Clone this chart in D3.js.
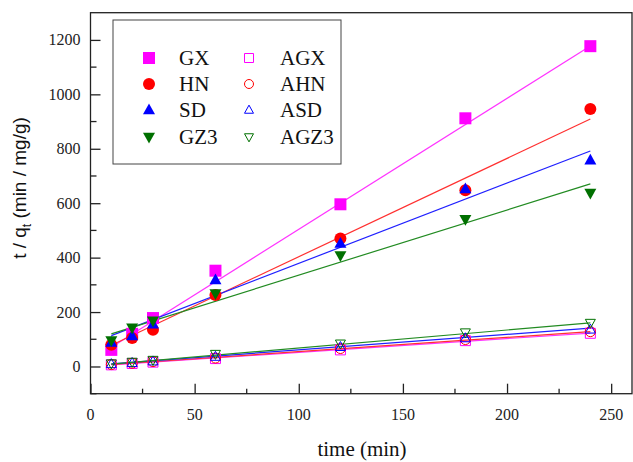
<!DOCTYPE html>
<html><head><meta charset="utf-8">
<script src="https://cdn.jsdelivr.net/npm/d3@7"></script>
<style>
  svg text { font-family: "Liberation Serif", "Times New Roman", Times, serif; }
  svg text.sans { font-family: "Liberation Sans", Arial, sans-serif; }
</style>
</head><body style="margin:0">
<script>
// ---- data ----
const times = [10, 20, 30, 60, 120, 180, 240];
const seriesNames = ["GX", "HN", "SD", "GZ3", "AGX", "AHN", "ASD", "AGZ3"];
const GX   = [61, 120, 178, 352, 596, 912, 1177];
const HN   = [80, 105, 135, 263, 470, 648, 946];
const SD   = [88, 112, 155, 318, 452, 652, 758];
const GZ3  = [95, 142, 168, 268, 408, 541, 637];
const AGX  = [6, 11, 16, 29, 61, 95, 122];
const AHN  = [7, 12, 18, 31, 66, 99, 128];
const ASD  = [9, 13, 19, 36, 72, 104, 136];
const AGZ3 = [11, 17, 24, 46, 84, 125, 160];
// linear fit parameters (intercept, slope)
const fitIntercept = [23, 42, 84, 96, 1, 2, 4, 2];
const fitSlope     = [4.81, 3.613, 2.95, 2.396, 0.508, 0.525, 0.57, 0.66];
const xTicks = [0, 50, 100, 150, 200, 250];
const yTicks = [0, 200, 400, 600, 800, 1000, 1200];

const values = [GX, HN, SD, GZ3, AGX, AHN, ASD, AGZ3];
const colors = ["#ff00ff", "#ff0000", "#0000ff", "#007000", "#ff00ff", "#ff0000", "#0000ff", "#007000"];
const lineColors = ["#ff33ff", "#ff3030", "#2020ff", "#228b22", "#ff33ff", "#ff3030", "#2020ff", "#228b22"];
const shapes = ["square", "circle", "up", "down", "square", "circle", "up", "down"];
const filled = [true, true, true, true, false, false, false, false];

const W = 633, H = 462;
const svg = d3.select("body").append("svg").attr("width", W).attr("height", H)
  .attr("font-family", "Liberation Serif");
const x = d3.scaleLinear().domain([0, 260]).range([90.5, 632]);
const y = d3.scaleLinear().domain([-100, 1300]).range([393.7, 12.7]);

function symPath(shape, s) {
  if (shape === "square") return d3.symbol(d3.symbolSquare, s * s)();
  if (shape === "circle") return d3.symbol(d3.symbolCircle, Math.PI * (s / 2) * (s / 2))();
  const h = s * 0.9, w = s;
  if (shape === "up") return `M0,${-h*0.6}L${w/2},${h*0.4}L${-w/2},${h*0.4}Z`;
  return `M0,${h*0.6}L${w/2},${-h*0.4}L${-w/2},${-h*0.4}Z`;
}

// fit lines
const gLines = svg.append("g");
values.forEach((v, i) => {
  const t0 = times[0], t1 = times[times.length - 1];
  gLines.append("line")
    .attr("x1", x(t0)).attr("y1", y(fitIntercept[i] + fitSlope[i] * t0))
    .attr("x2", x(t1)).attr("y2", y(fitIntercept[i] + fitSlope[i] * t1))
    .attr("stroke", lineColors[i]).attr("stroke-width", 1.2);
});

// markers
values.forEach((v, i) => {
  const g = svg.append("g");
  const s = filled[i] ? 12 : 10;
  g.selectAll("path").data(v).enter().append("path")
    .attr("d", symPath(shapes[i], s))
    .attr("transform", (d, j) => `translate(${x(times[j])},${y(d)})`)
    .attr("fill", filled[i] ? colors[i] : "none")
    .attr("stroke", colors[i]).attr("stroke-width", filled[i] ? 0 : 1);
});

// frame
svg.append("rect").attr("x", x(0)).attr("y", y(1300)).attr("width", x(260) - x(0)).attr("height", y(-100) - y(1300))
  .attr("fill", "none").attr("stroke", "#222").attr("stroke-width", 1.3);

// axes (tick marks via d3 axis; labels as plain texts)
const xAxis = d3.axisBottom(x).tickValues(xTicks).tickSize(-10).tickFormat("");
const gx = svg.append("g").attr("transform", `translate(0,${y(-100)})`).call(xAxis);
gx.attr("font-family", null);
gx.select(".domain").remove();
gx.selectAll(".tick line").attr("stroke", "#222").attr("stroke-width", 1.3);
gx.selectAll(".tick text").remove();
svg.append("g").selectAll("text").data(xTicks).enter().append("text")
  .attr("x", d => x(d)).attr("y", y(-100) + 26).attr("text-anchor", "middle")
  .attr("font-size", 16).attr("fill", "#222").text(d => d);
const xMinor = d3.range(25, 260, 50);
svg.append("g").selectAll("line").data(xMinor).enter().append("line")
  .attr("x1", d => x(d)).attr("x2", d => x(d)).attr("y1", y(-100)).attr("y2", y(-100) - 5)
  .attr("stroke", "#222").attr("stroke-width", 1.3);

const yAxis = d3.axisLeft(y).tickValues(yTicks).tickSize(-10).tickFormat("");
const gy = svg.append("g").attr("transform", `translate(${x(0)},0)`).call(yAxis);
gy.attr("font-family", null);
gy.select(".domain").remove();
gy.selectAll(".tick line").attr("stroke", "#222").attr("stroke-width", 1.3);
gy.selectAll(".tick text").remove();
svg.append("g").selectAll("text").data(yTicks).enter().append("text")
  .attr("x", x(0) - 10).attr("y", d => y(d) + 5.5).attr("text-anchor", "end")
  .attr("font-size", 16).attr("fill", "#222").text(d => d);
const yMinor = d3.range(-100, 1300, 200);
svg.append("g").selectAll("line").data(yMinor).enter().append("line")
  .attr("x1", x(0)).attr("x2", x(0) + 6).attr("y1", d => y(d)).attr("y2", d => y(d))
  .attr("stroke", "#222").attr("stroke-width", 1.3);

// axis titles
svg.append("text").attr("x", 362).attr("y", 456).attr("text-anchor", "middle")
  .attr("font-size", 21).attr("fill", "#111")
  .text("time (min)");
const yt = svg.append("text").attr("class", "sans").attr("transform", "translate(26,188) rotate(-90)").attr("text-anchor", "middle")
  .attr("font-size", 19).attr("fill", "#111");
yt.append("tspan").text("t / q");
yt.append("tspan").attr("dy", 5).attr("font-size", 12).text("t");
yt.append("tspan").attr("dy", -5).text(" (min / mg/g)");

// legend
const lg = svg.append("g");
lg.append("rect").attr("x", 113).attr("y", 20).attr("width", 228).attr("height", 144)
  .attr("fill", "#fff").attr("stroke", "#444").attr("stroke-width", 1);
const rowY = [58, 84, 110, 137];
seriesNames.forEach((n, i) => {
  const col = i < 4 ? 0 : 1, r = i % 4;
  const sx = col === 0 ? 149 : 249, tx = col === 0 ? 179 : 280;
  lg.append("path").attr("d", symPath(shapes[i], filled[i] ? 12 : 9))
    .attr("transform", `translate(${sx},${rowY[r]})`)
    .attr("fill", filled[i] ? colors[i] : "none").attr("stroke", colors[i]).attr("stroke-width", filled[i] ? 0 : 1);
  lg.append("text").attr("x", tx).attr("y", rowY[r] + 7)
    .attr("font-size", 21).attr("fill", "#111")
    .text(n);
});
</script>
</body></html>
